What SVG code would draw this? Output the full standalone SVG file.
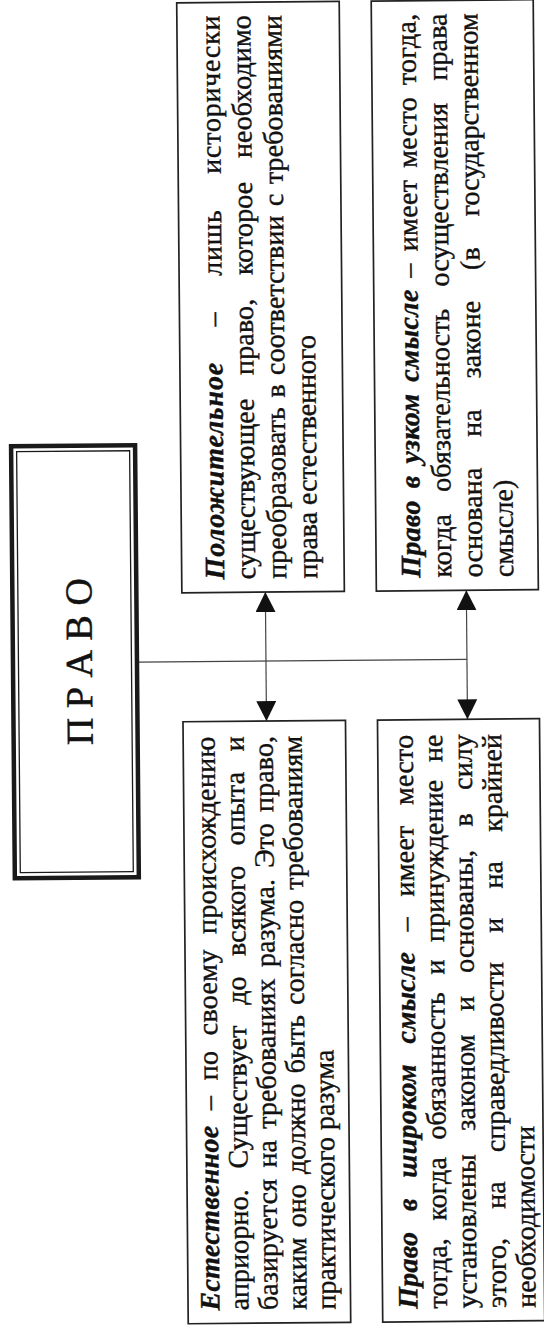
<svg xmlns="http://www.w3.org/2000/svg" width="544" height="1333" viewBox="0 0 544 1333">
<style>
.t{font-family:"Liberation Serif","Times New Roman",serif;font-size:28px;fill:#111;stroke:#111;stroke-width:0.4px}
.b{font-weight:bold;font-style:italic}
.box{fill:#fff;stroke:#222;stroke-width:1.7}
.conn{stroke:#444;stroke-width:1.2;fill:none}
.title{font-family:"Liberation Serif","Times New Roman",serif;font-size:38px;fill:#111;stroke:#111;stroke-width:0.5px}
</style>
<defs>
<marker id="ah" markerUnits="userSpaceOnUse" markerWidth="20" markerHeight="20" refX="20" refY="10" orient="auto-start-reverse">
<path d="M0,0 L20,10 L0,20 z" fill="#111"/>
</marker>
</defs>
<rect width="544" height="1333" fill="#fff"/>
<g transform="rotate(-0.5 272 666)">
<g transform="translate(0 1333) rotate(-90)">
<g id="connectors">
<line class="conn" x1="672" y1="139" x2="672" y2="467"/>
<line class="conn" x1="612" y1="266" x2="741" y2="266" marker-start="url(#ah)" marker-end="url(#ah)"/>
<line class="conn" x1="612" y1="467" x2="741" y2="467" marker-start="url(#ah)" marker-end="url(#ah)"/>
</g>
<g id="pravo">
<rect x="457" y="13" width="432" height="124" fill="#fff" stroke="#1a1a1a" stroke-width="4.5"/>
<rect x="462.5" y="18.5" width="421" height="113" fill="none" stroke="#1a1a1a" stroke-width="1.3"/>
<text class="title" x="673" y="92" text-anchor="middle">П Р А В О</text>
</g>
<g id="estestvennoe">
<rect class="box" x="10" y="182.5" width="602" height="162.5"/>
<text class="t" x="23" y="214" textLength="574" lengthAdjust="spacing" style="word-spacing:8px"><tspan class="b">Естественное</tspan> – по своему происхождению</text>
<text class="t" x="23" y="243" textLength="574" lengthAdjust="spacing" style="word-spacing:13.3px">априорно. Существует до всякого опыта и</text>
<text class="t" x="23" y="272" textLength="574" lengthAdjust="spacing" style="word-spacing:4.1px">базируется на требованиях разума. Это право,</text>
<text class="t" x="23" y="301" textLength="574" lengthAdjust="spacing" style="word-spacing:3px">каким оно должно быть согласно требованиям</text>
<text class="t" x="23" y="330">практического разума</text>
</g>
<g id="shirokom">
<rect class="box" x="10" y="377" width="602" height="162"/>
<text class="t" x="23" y="412" textLength="574" lengthAdjust="spacing" style="word-spacing:13.3px"><tspan class="b">Право в широком смысле</tspan> – имеет место</text>
<text class="t" x="23" y="441.5" textLength="574" lengthAdjust="spacing" style="word-spacing:10.4px">тогда, когда обязанность и принуждение не</text>
<text class="t" x="23" y="471" textLength="574" lengthAdjust="spacing" style="word-spacing:16.3px">установлены законом и основаны, в силу</text>
<text class="t" x="23" y="500.5" textLength="574" lengthAdjust="spacing" style="word-spacing:22.2px">этого, на справедливости и на крайней</text>
<text class="t" x="23" y="530">необходимости</text>
</g>
<g id="polozhitelnoe">
<rect class="box" x="741" y="182.5" width="590" height="162.5"/>
<text class="t" x="754" y="225" textLength="564" lengthAdjust="spacing" style="word-spacing:28px"><tspan class="b">Положительное</tspan> – лишь исторически</text>
<text class="t" x="754" y="256" textLength="564" lengthAdjust="spacing" style="word-spacing:16.5px">существующее право, которое необходимо</text>
<text class="t" x="754" y="287" textLength="564" lengthAdjust="spacing" style="word-spacing:2.3px">преобразовать в соответствии с требованиями</text>
<text class="t" x="754" y="318">права естественного</text>
</g>
<g id="uzkom">
<rect class="box" x="741" y="377" width="590" height="162"/>
<text class="t" x="754" y="421" textLength="564" lengthAdjust="spacing" style="word-spacing:4.5px"><tspan class="b">Право в узком смысле</tspan> – имеет место тогда,</text>
<text class="t" x="754" y="452" textLength="564" lengthAdjust="spacing" style="word-spacing:15px">когда обязательность осуществления права</text>
<text class="t" x="754" y="483" textLength="564" lengthAdjust="spacing" style="word-spacing:23.7px">основана на законе (в государственном</text>
<text class="t" x="754" y="514">смысле)</text>
</g>
</g>
</g>
</svg>
